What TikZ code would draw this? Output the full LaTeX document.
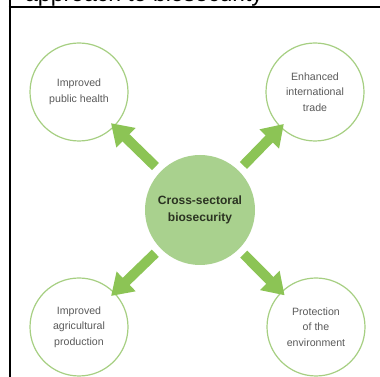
\documentclass[tikz,border=0pt]{standalone}
\usepackage{fontspec}
\setmainfont{Liberation Sans}
\usetikzlibrary{arrows.meta}
\definecolor{ring}{HTML}{A6CF82}
\definecolor{hub}{HTML}{A9D18E}
\definecolor{arr}{HTML}{8CC455}
\definecolor{txt}{HTML}{5A5A5A}
\definecolor{hubtxt}{HTML}{2B3322}
\tikzset{
  x=1pt, y=1pt,
  outer/.style={circle, draw=ring, line width=1.2pt, fill=white, minimum size=98pt, inner sep=0pt,
    align=center, text=txt, font=\fontsize{10.6}{15.5}\selectfont},
  hubnode/.style={circle, fill=hub, minimum size=110pt, inner sep=0pt, align=center, text=hubtxt,
    font=\fontsize{12}{17}\selectfont\bfseries},
  bigarrow/.style={draw=arr, line width=10pt, -{Triangle[width=26pt,length=21pt]}, arr,
    shorten <=7pt, shorten >=-5pt}
}
\begin{document}
\begin{tikzpicture}
\useasboundingbox (0,0) rectangle (380,377);
\node[anchor=base west, font=\fontsize{23}{23}\selectfont, inner sep=0pt] (title) at (25,375.5) {approach to biosecurity};
\draw[line width=2pt] (9.5,377) -- (9.5,0);
\draw[line width=2pt] (8.5,370) -- (380,370);
\node[hubnode] (c) at (200,167) {Cross-sectoral\\biosecurity};
\node[outer] (tl) at (79,285) {Improved\\public health};
\node[outer] (tr) at (315,285) {Enhanced\\international\\trade};
\node[outer] (bl) at (79,50) {Improved\\agricultural\\production};
\node[outer] (br) at (316,50) {Protection\\of the\\environment};
\draw[bigarrow] (c) -- (tl);
\draw[bigarrow] (c) -- (tr);
\draw[bigarrow] (c) -- (bl);
\draw[bigarrow] (c) -- (br);
\end{tikzpicture}
\end{document}
